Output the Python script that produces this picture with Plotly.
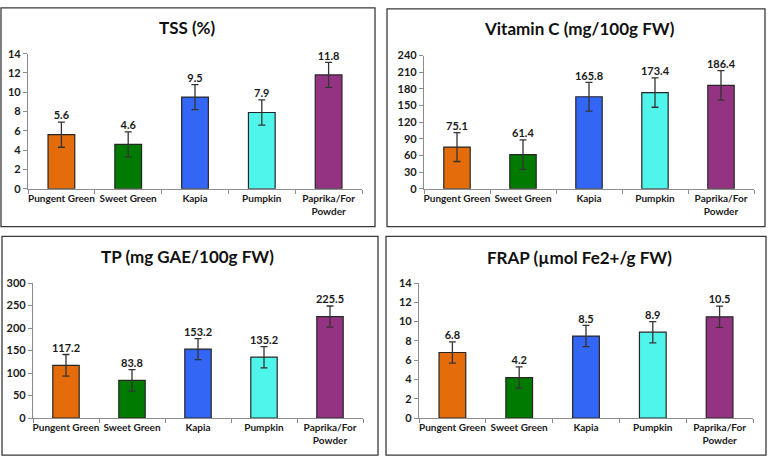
import plotly.graph_objects as go

categories = ["Pungent Green", "Sweet Green", "Kapia", "Pumpkin", "Paprika/For<br>Powder"]
colors = ["#E46C0A", "#007A00", "#3466F5", "#4FF5EA", "#953383"]

tss_values = [5.6, 4.6, 9.5, 7.9, 11.8]
tss_errors = [1.3, 1.3, 1.3, 1.3, 1.3]

vitc_values = [75.1, 61.4, 165.8, 173.4, 186.4]
vitc_errors = [26, 26.5, 26, 26.5, 26.5]

tp_values = [117.2, 83.8, 153.2, 135.2, 225.5]
tp_errors = [24, 24, 23.5, 23.5, 23.5]

frap_values = [6.8, 4.2, 8.5, 8.9, 10.5]
frap_errors = [1.1, 1.1, 1.1, 1.1, 1.1]

titles = ["TSS (%)", "Vitamin C (mg/100g FW)", "TP (mg GAE/100g FW)", "FRAP (µmol Fe2+/g FW)"]
y_ranges = [(0, 14, 2), (0, 240, 30), (0, 300, 50), (0, 14, 2)]
label_fmt = ["{:.1f}"] * 4

panels = [
    (tss_values, tss_errors),
    (vitc_values, vitc_errors),
    (tp_values, tp_errors),
    (frap_values, frap_errors),
]

W, H = 768, 462
# plot areas in pixels: x0, x1, ytop, ybottom
areas = [(28, 362, 48, 187), (424, 754, 50, 187), (33, 363, 284, 423), (419, 753, 284, 423)]
borders = [(1, 375, 1, 226), (387, 765, 2, 226), (2, 378, 236, 461), (386, 766, 236, 461)]
title_pos = [(187, 21), (579, 22), (187, 257), (579, 258)]

FONT = "Lato"
fig = go.Figure()

for i, ((vals, errs), (x0, x1, yt, yb)) in enumerate(zip(panels, areas)):
    n = "" if i == 0 else str(i + 1)
    xa, ya = "x" + n, "y" + n
    fig.add_trace(go.Bar(
        x=categories, y=vals, xaxis=xa, yaxis=ya,
        marker=dict(color=colors, line=dict(color="#262626", width=1.2)),
        width=0.4,
        error_y=dict(type="data", array=errs, visible=True, color="#333333", thickness=1.3, width=3.5),
        showlegend=False, hoverinfo="x+y",
    ))
    fig.add_trace(go.Scatter(
        x=categories, y=[v + e for v, e in zip(vals, errs)], xaxis=xa, yaxis=ya,
        mode="text", text=[label_fmt[i].format(v) for v in vals],
        textposition="top center",
        textfont=dict(family=FONT, size=11, color="#1a1a1a", weight="bold"),
        showlegend=False, hoverinfo="skip", cliponaxis=False,
    ))
    lo, hi, dt = y_ranges[i]
    fig.layout["xaxis" + n] = dict(
        domain=[x0 / W, x1 / W], anchor=ya, type="category",
        showline=True, linecolor="#8c8c8c", linewidth=1.2,
        ticks="outside", tickson="boundaries", ticklen=4, tickcolor="#8c8c8c",
        tickangle=0,
        tickfont=dict(family=FONT, size=10, color="#1a1a1a", weight="bold"),
        showgrid=False, zeroline=False, fixedrange=True,
    )
    fig.layout["yaxis" + n] = dict(
        domain=[1 - yb / H, 1 - yt / H], anchor=xa,
        range=[lo, hi], dtick=dt, tick0=0,
        showline=True, linecolor="#8c8c8c", linewidth=1.2,
        ticks="outside", ticklen=4, tickcolor="#8c8c8c",
        tickfont=dict(family=FONT, size=11, color="#1a1a1a", weight="bold"),
        showgrid=False, zeroline=False, fixedrange=True,
    )

for (bx0, bx1, by0, by1) in borders:
    fig.add_shape(type="rect", xref="paper", yref="paper",
                  x0=bx0 / W, x1=bx1 / W, y0=1 - by1 / H, y1=1 - by0 / H,
                  line=dict(color="#3a3a3a", width=1.3))

for t, (tx, ty) in zip(titles, title_pos):
    fig.add_annotation(text=t, xref="paper", yref="paper", x=tx / W, y=1 - ty / H,
                       xanchor="center", yanchor="middle", showarrow=False,
                       font=dict(family=FONT, size=17, color="#111111", weight="bold"))

fig.update_layout(
    width=W, height=H, margin=dict(l=0, r=0, t=0, b=0),
    paper_bgcolor="white", plot_bgcolor="white", bargap=0.6,
)

fig.write_html("out.html", config={"displayModeBar": False})

# remove the default page margin so the figure sits at the window's corner
with open("out.html", "r", encoding="utf-8") as f:
    html = f.read()
html = html.replace("<head>", "<head><style>html,body{margin:0;padding:0;overflow:hidden;}</style>", 1)
with open("out.html", "w", encoding="utf-8") as f:
    f.write(html)
